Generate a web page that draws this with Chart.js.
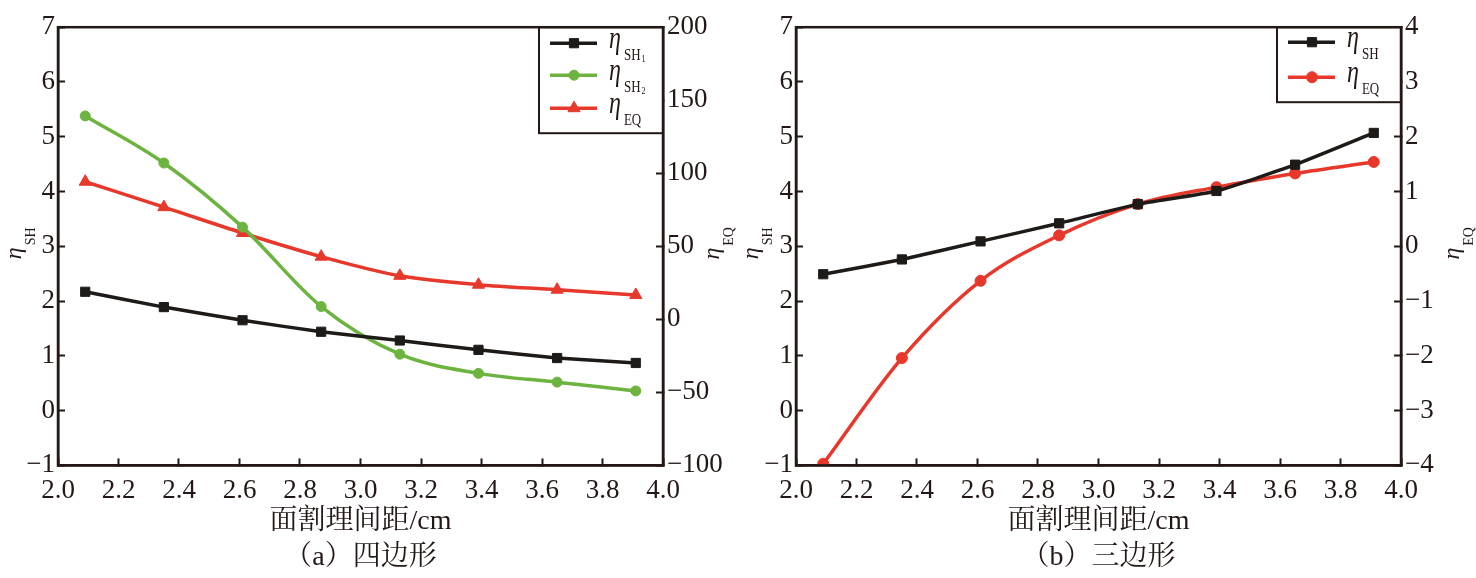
<!DOCTYPE html>
<html>
<head>
<meta charset="utf-8">
<script src="https://cdn.jsdelivr.net/npm/chart.js@4.4.1/dist/chart.umd.min.js"></script>
<style>
body { margin: 0; background: #fff; }
#wrap { display: flex; width: 1476px; height: 578px; }
canvas { display: block; }
</style>
</head>
<body>
<div id="wrap">
  <canvas id="chartA" width="738" height="578"></canvas>
  <canvas id="chartB" width="738" height="578"></canvas>
</div>
<script>
// 面割理间距 / cm
const spacing = [2.09, 2.35, 2.61, 2.87, 3.13, 3.39, 3.65, 3.91];

// (a) 四边形
const quadSH1 = [2.17, 1.89, 1.65, 1.44, 1.28, 1.11, 0.96, 0.87];
const quadSH2 = [5.38, 4.52, 3.35, 1.90, 1.03, 0.68, 0.52, 0.36];
const quadEQ = [94.2, 76.8, 59.1, 42.9, 29.8, 23.7, 20.3, 16.7];

// (b) 三边形
const triSH = [2.49, 2.76, 3.09, 3.42, 3.77, 4.01, 4.49, 5.07];
const triEQ = [-3.97, -2.04, -0.63, 0.20, 0.77, 1.08, 1.33, 1.54];

const ink = '#231815';
const black = '#1e1a18';
const green = '#6cb33f';
const red = '#e8382c';
const serif = 'Liberation Serif, Noto Serif CJK SC, serif';

Chart.defaults.font.family = serif;

function toPoints(ys) {
    return spacing.map((x, i) => ({ x: x, y: ys[i] }));
}

function minus(v) {
    return String(v).replace('-', '\u2212');
}

// η with subscript, drawn at baseline (x, y)
function etaWidth(ctx, sub, idx, s) {
    ctx.font = `italic ${s.eta}px ${serif}`;
    let w = ctx.measureText('\u03b7').width + s.gap;
    ctx.font = `${s.sub}px ${serif}`;
    w += ctx.measureText(sub).width;
    if (idx) {
        ctx.font = `${Math.round(s.sub * 0.65)}px ${serif}`;
        w += ctx.measureText(idx).width + 1;
    }
    return w;
}

function drawEta(ctx, x, y, sub, idx, s) {
    ctx.save();
    ctx.translate(x, y);
    ctx.scale(1, s.sy);
    ctx.fillStyle = ink;
    ctx.textAlign = 'left';
    ctx.textBaseline = 'alphabetic';
    ctx.font = `italic ${s.eta}px ${serif}`;
    ctx.fillText('\u03b7', 0, 0);
    let w = ctx.measureText('\u03b7').width + s.gap;
    ctx.font = `${s.sub}px ${serif}`;
    ctx.fillText(sub, w, s.dy);
    w += ctx.measureText(sub).width + 1;
    if (idx) {
        ctx.font = `${Math.round(s.sub * 0.65)}px ${serif}`;
        ctx.fillText(idx, w, s.dy + 1);
    }
    ctx.restore();
}

const titleStyle = { eta: 24, sub: 14, gap: 2, dy: 14, sy: 1 };
const legendStyle = { eta: 24, sub: 13, gap: 3, dy: 9, sy: 1.35 };

// frame, rotated axis titles and the boxed legend
const decor = {
    id: 'decor',
    afterDraw(chart, args, opts) {
        const ctx = chart.ctx;
        const a = chart.chartArea;
        const midY = (a.top + a.bottom) / 2;
        ctx.save();

        // legend box
        const bx = a.right - opts.boxW;
        const by = a.top;
        ctx.fillStyle = '#fff';
        ctx.fillRect(bx, by, opts.boxW, opts.boxH);
        ctx.strokeStyle = ink;
        ctx.lineWidth = 2;
        ctx.strokeRect(bx, by, opts.boxW, opts.boxH);
        opts.items.forEach((it, i) => {
            const ry = by + opts.rows[i];
            ctx.strokeStyle = it.color;
            ctx.lineWidth = 3.5;
            ctx.beginPath();
            ctx.moveTo(bx + 11, ry);
            ctx.lineTo(bx + 58, ry);
            ctx.stroke();
            ctx.fillStyle = it.color;
            ctx.lineWidth = 1;
            Chart.helpers.drawPoint(ctx, { pointStyle: it.style, radius: it.radius, borderWidth: 1, rotation: 0 }, bx + 35, ry);
            drawEta(ctx, bx + 70, ry + 5, it.sub, it.idx, legendStyle);
        });

        // plot frame
        ctx.strokeStyle = ink;
        ctx.lineWidth = 2.5;
        ctx.strokeRect(a.left, a.top, a.right - a.left, a.bottom - a.top);

        // axis titles
        [opts.leftTitle, opts.rightTitle].forEach(t => {
            ctx.save();
            ctx.translate(t.x, midY - 3);
            ctx.rotate(-Math.PI / 2);
            const w = etaWidth(ctx, t.sub, null, titleStyle);
            drawEta(ctx, -w / 2, 0, t.sub, null, titleStyle);
            ctx.restore();
        });
        ctx.restore();
    }
};

function xScale() {
    return {
        type: 'linear',
        min: 2.0,
        max: 4.0,
        afterFit(s) { s.height = 75; },
        ticks: {
            stepSize: 0.2,
            padding: 16,
            color: ink,
            font: { family: serif, size: 27 },
            callback: v => v.toFixed(1)
        },
        grid: { drawOnChartArea: false, tickLength: -7, tickWidth: 2, color: ink },
        border: { color: ink, width: 2.5 },
        title: {
            display: true,
            text: '面割理间距/cm',
            color: ink,
            font: { family: serif, size: 28 },
            padding: { top: 2, bottom: 2 }
        }
    };
}

function yScale(pos, min, max, step, width, pad) {
    return {
        type: 'linear',
        position: pos,
        min: min,
        max: max,
        afterFit(s) { s.width = width; },
        ticks: {
            stepSize: step,
            padding: pad,
            color: ink,
            font: { family: serif, size: 27 },
            callback: v => minus(v)
        },
        grid: { drawOnChartArea: false, tickLength: -7, tickWidth: 2, color: ink },
        border: { color: ink, width: 2.5 }
    };
}

function line(data, color, axis, style, radius, smooth) {
    const ds = {
        data: toPoints(data),
        yAxisID: axis,
        borderColor: color,
        backgroundColor: color,
        borderWidth: 3.5,
        pointStyle: style,
        pointRadius: radius,
        pointBorderWidth: 1,
        pointBorderColor: color,
        pointBackgroundColor: color,
        tension: smooth ? 0.4 : 0.15
    };
    if (smooth) ds.cubicInterpolationMode = 'monotone';
    return ds;
}

function baseOptions(caption, decorOpts, y, y1) {
    return {
        responsive: false,
        animation: false,
        devicePixelRatio: 1,
        layout: { padding: { top: 22, right: 0, left: 0, bottom: 0 } },
        scales: { x: xScale(), y: y, y1: y1 },
        plugins: {
            legend: { display: false },
            tooltip: { enabled: false },
            title: {
                display: true,
                position: 'bottom',
                fullSize: false,
                text: caption,
                color: ink,
                font: { family: serif, size: 28, weight: 'normal' },
                padding: { top: 0, bottom: 4 }
            },
            decor: decorOpts
        }
    };
}

new Chart(document.getElementById('chartA'), {
    type: 'line',
    data: {
        datasets: [
            line(quadSH1, black, 'y', 'rect', 6.5, false),
            line(quadSH2, green, 'y', 'circle', 5, true),
            line(quadEQ, red, 'y1', 'triangle', 7, true)
        ]
    },
    options: baseOptions('（a）四边形', {
        boxW: 124, boxH: 106, rows: [16, 48, 81],
        items: [
            { color: black, style: 'rect', radius: 6.5, sub: 'SH', idx: '1' },
            { color: green, style: 'circle', radius: 5, sub: 'SH', idx: '2' },
            { color: red, style: 'triangle', radius: 7, sub: 'EQ', idx: null }
        ],
        leftTitle: { x: 21, sub: 'SH' },
        rightTitle: { x: 719, sub: 'EQ' }
    }, yScale('left', -1, 7, 1, 58, 10), yScale('right', -100, 200, 50, 75, 11)),
    plugins: [decor]
});

new Chart(document.getElementById('chartB'), {
    type: 'line',
    data: {
        datasets: [
            line(triSH, black, 'y', 'rect', 6.5, false),
            line(triEQ, red, 'y1', 'circle', 5.5, true)
        ]
    },
    options: baseOptions('（b）三边形', {
        boxW: 124, boxH: 75, rows: [15, 50],
        items: [
            { color: black, style: 'rect', radius: 6.5, sub: 'SH', idx: null },
            { color: red, style: 'circle', radius: 5.5, sub: 'EQ', idx: null }
        ],
        leftTitle: { x: 20, sub: 'SH' },
        rightTitle: { x: 721, sub: 'EQ' }
    }, yScale('left', -1, 7, 1, 58, 10), yScale('right', -4, 4, 1, 75, 11)),
    plugins: [decor]
});
</script>
</body>
</html>
